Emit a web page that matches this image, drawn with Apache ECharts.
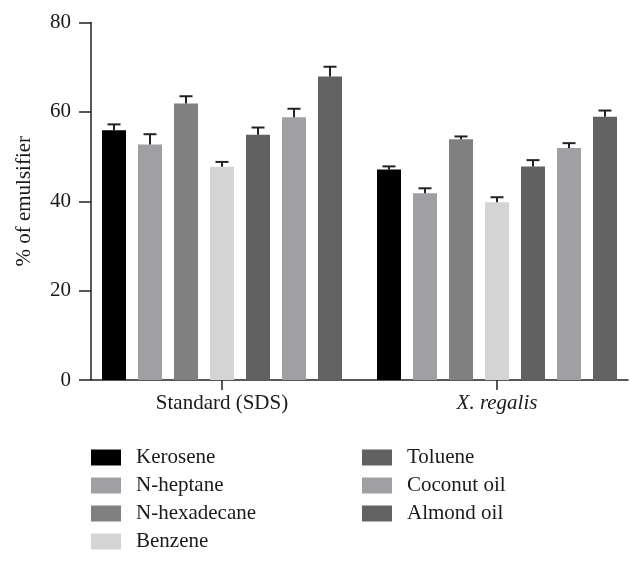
<!DOCTYPE html>
<html><head><meta charset="utf-8">
<script src="https://cdn.jsdelivr.net/npm/echarts@6/dist/echarts.min.js"></script>
<style>html,body{margin:0;padding:0;background:#fff}#c{width:643px;height:562px}</style>
</head><body><div id="c"></div>
<script>
var categories = ['Standard (SDS)', 'X. regalis'];
var seriesNames = ['Kerosene', 'N-heptane', 'N-hexadecane', 'Benzene', 'Toluene', 'Coconut oil', 'Almond oil'];
var seriesColors = ['#000000', '#a0a0a4', '#808080', '#d4d4d4', '#616161', '#a0a0a4', '#626262'];
var kerosene = [55.9, 47.1];
var nheptane = [52.7, 41.8];
var nhexadecane = [61.9, 53.9];
var benzene = [47.7, 39.8];
var toluene = [54.9, 47.8];
var coconut = [58.8, 51.9];
var almond = [67.9, 58.9];
var keroseneErr = [1.3, 0.7];
var nheptaneErr = [2.3, 1.1];
var nhexadecaneErr = [1.6, 0.6];
var benzeneErr = [1.1, 1.1];
var tolueneErr = [1.6, 1.4];
var coconutErr = [1.9, 1.1];
var almondErr = [2.2, 1.4];
var yTicks = [0, 20, 40, 60, 80];
var yTitle = '% of emulsifier';

var values = [kerosene, nheptane, nhexadecane, benzene, toluene, coconut, almond];
var errs = [keroseneErr, nheptaneErr, nhexadecaneErr, benzeneErr, tolueneErr, coconutErr, almondErr];
var FONT = 'Liberation Serif';
var FS = 21;
var BAR_W = 24, BAR_GAP = 12;

var series = [];
values.forEach(function (v, i) {
  series.push({
    type: 'bar', name: seriesNames[i], xAxisIndex: 0, yAxisIndex: 0,
    data: v, barWidth: BAR_W, barGap: (BAR_GAP / BAR_W * 100) + '%', barCategoryGap: '12.7%',
    itemStyle: { color: seriesColors[i] }, z: 2
  });
});
values.forEach(function (v, i) {
  var off = (i - (values.length - 1) / 2) * (BAR_W + BAR_GAP);
  series.push({
    type: 'custom', xAxisIndex: 0, yAxisIndex: 0, z: 3, silent: true,
    data: v.map(function (val, k) { return [k, val, val + errs[i][k]]; }),
    renderItem: function (params, api) {
      var p0 = api.coord([api.value(0), api.value(1)]);
      var p1 = api.coord([api.value(0), api.value(2)]);
      var x = p0[0] + off;
      var st = { stroke: '#222', lineWidth: 2 };
      return { type: 'group', children: [
        { type: 'line', shape: { x1: x, y1: p0[1], x2: x, y2: p1[1] }, style: st },
        { type: 'line', shape: { x1: x - 6.5, y1: p1[1], x2: x + 6.5, y2: p1[1] }, style: st }
      ]};
    }
  });
});

var chart = echarts.init(document.getElementById('c'), null, { renderer: 'canvas' });
var legendText = { fontFamily: FONT, fontSize: FS, color: '#1a1a1a', padding: [0, 0, 0, 10] };
chart.setOption({
  animation: false,
  backgroundColor: '#fff',
  grid: [
    { left: 84.5, right: 8.5, top: 22.5, bottom: 182 },
    { left: 91, right: 15, top: 22.5, bottom: 182 }
  ],
  xAxis: [
    { type: 'category', gridIndex: 0, data: categories,
      axisLine: { show: false },
      axisTick: { show: true, alignWithLabel: true, length: 10, lineStyle: { color: '#222', width: 1.5 } },
      axisLabel: { margin: 13, fontFamily: FONT, fontSize: FS, color: '#1a1a1a',
        formatter: function (v) { return v === 'X. regalis' ? '{i|' + v + '}' : v; },
        rich: { i: { fontStyle: 'italic', fontFamily: FONT, fontSize: FS, color: '#1a1a1a' } } } },
    { type: 'value', gridIndex: 1, min: 0, max: 1,
      axisLine: { show: true, lineStyle: { color: '#222', width: 1.5 } },
      axisTick: { show: false }, axisLabel: { show: false }, splitLine: { show: false } }
  ],
  yAxis: [
    { type: 'value', gridIndex: 0, min: yTicks[0], max: yTicks[yTicks.length - 1], interval: 20,
      show: false },
    { type: 'value', gridIndex: 1, min: yTicks[0], max: yTicks[yTicks.length - 1], interval: 20,
      name: yTitle, nameLocation: 'middle', nameGap: 56, nameRotate: 90,
      nameTextStyle: { fontFamily: FONT, fontSize: FS, color: '#1a1a1a' },
      axisLine: { show: true, lineStyle: { color: '#222', width: 1.5 } },
      axisTick: { show: true, length: 12, lineStyle: { color: '#222', width: 1.5 } },
      axisLabel: { margin: 20, fontFamily: FONT, fontSize: FS, color: '#1a1a1a' },
      splitLine: { show: false } }
  ],
  legend: [
    { data: seriesNames.slice(0, 4), orient: 'vertical', left: 91, top: 447, height: 140, padding: 0,
      itemWidth: 30, itemHeight: 16, itemGap: 7, itemStyle: { borderWidth: 0 },
      textStyle: legendText, icon: 'rect', selectedMode: false },
    { data: seriesNames.slice(4), orient: 'vertical', left: 362, top: 447, height: 140, padding: 0,
      itemWidth: 30, itemHeight: 16, itemGap: 7, itemStyle: { borderWidth: 0 },
      textStyle: legendText, icon: 'rect', selectedMode: false }
  ],
  series: series
});
</script></body></html>
